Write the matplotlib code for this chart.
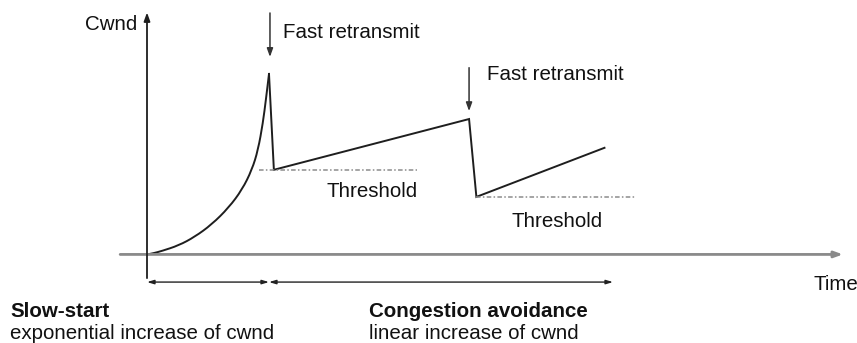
import numpy as np
import matplotlib.pyplot as plt
from matplotlib.path import Path
from matplotlib.patches import PathPatch

plt.rcParams['font.family'] = ['Liberation Sans', 'DejaVu Sans']

# slow-start phase: cwnd grows exponentially until the first loss
ss_time = [0, 0.5, 1.2, 2.6, 3.9, 5.3, 6.7, 7.8, 8.6, 9.1, 9.5, 9.75, 10]
ss_cwnd = [0, 0.2, 0.6, 1.6, 3.1, 5.3, 8.3, 11.5, 15.0, 18.5, 23.3, 27.5, 32]

# congestion avoidance: drop to threshold, then linear growth
ca_time = [10, 10.4, 26.4, 27.0, 37.5]
ca_cwnd = [32, 15.0, 24.0, 10.2, 18.9]

# threshold levels (value, start, end)
thresholds = [15.0, 10.2]
thresh_start = [9.2, 27.0]
thresh_end = [22.1, 40.1]

# fast retransmit events
loss_time = [10.08, 26.4]

# phase boundaries on the time axis
phase_edges = [0, 10, 38.2]

line_col = '#1e1e1e'
text_col = '#111111'

fig = plt.figure(figsize=(8.57, 3.43), dpi=100)
ax = fig.add_axes([0, 0, 1, 1])
ax.set_xlim(-12.05, 58.2)
ax.set_ylim(-15.7, 45.1)
ax.axis('off')

# axes drawn as arrows
ax.annotate('', xy=(57.05, 0), xytext=(-2.2, 0),
            arrowprops=dict(arrowstyle='-|>,head_length=0.5,head_width=0.18',
                            color='#8a8a8a', lw=2, shrinkA=0, shrinkB=0))
ax.annotate('', xy=(0, 42.9), xytext=(0, -4.2),
            arrowprops=dict(arrowstyle='-|>,head_length=0.5,head_width=0.18',
                            color=line_col, lw=1.3, shrinkA=0, shrinkB=0))

# slow-start curve: quadratic pieces between midpoints for a smooth trace
pts = np.column_stack([ss_time, ss_cwnd])
mids = (pts[:-1] + pts[1:]) / 2
verts = [pts[0], mids[0]]
codes = [Path.MOVETO, Path.LINETO]
for i in range(1, len(pts) - 1):
    verts += [pts[i], mids[i]]
    codes += [Path.CURVE3, Path.CURVE3]
verts.append(pts[-1])
codes.append(Path.LINETO)
ax.add_patch(PathPatch(Path(verts, codes), fill=False, edgecolor=line_col,
                       lw=1.4, joinstyle='round', capstyle='round'))

ax.plot(ca_time, ca_cwnd, color=line_col, lw=1.4, solid_joinstyle='miter')

# threshold lines
for th, t0, t1 in zip(thresholds, thresh_start, thresh_end):
    ax.plot([t0, t1], [th, th], color='#8c8c8c', lw=1.1,
            linestyle=(0, (3, 1.5, 1, 1.5)))

# fast retransmit markers
ax.annotate('', xy=(loss_time[0], 35.0), xytext=(loss_time[0], 42.8),
            arrowprops=dict(arrowstyle='-|>,head_length=0.5,head_width=0.18',
                            color='#333333', lw=1.1, shrinkA=0, shrinkB=0))
ax.annotate('', xy=(loss_time[1], 25.4), xytext=(loss_time[1], 33.1),
            arrowprops=dict(arrowstyle='-|>,head_length=0.5,head_width=0.18',
                            color='#333333', lw=1.1, shrinkA=0, shrinkB=0))

# phase spans below the time axis
for a, b in zip(phase_edges[:-1], phase_edges[1:]):
    ax.annotate('', xy=(b, -4.9), xytext=(a, -4.9),
                arrowprops=dict(arrowstyle='<|-|>,head_length=0.4,head_width=0.12',
                                color='#222222', lw=1.0, shrinkA=0, shrinkB=0))

fs = 14.8
ax.text(-0.8, 39.8, 'Cwnd', ha='right', va='baseline', fontsize=fs, color=text_col)
ax.text(54.67, -6.3, 'Time', ha='left', va='baseline', fontsize=fs, color=text_col)
ax.text(11.15, 38.4, 'Fast retransmit', ha='left', va='baseline', fontsize=fs, color=text_col)
ax.text(27.87, 30.9, 'Fast retransmit', ha='left', va='baseline', fontsize=fs, color=text_col)
ax.text(14.75, 10.2, 'Threshold', ha='left', va='baseline', fontsize=fs, color=text_col)
ax.text(29.84, 4.9, 'Threshold', ha='left', va='baseline', fontsize=fs, color=text_col)

ax.text(-11.23, -11.1, 'Slow-start', ha='left', va='baseline', fontsize=fs,
        fontweight='bold', color=text_col)
ax.text(-11.23, -15.0, 'exponential increase of cwnd', ha='left', va='baseline',
        fontsize=fs, color=text_col)
ax.text(18.2, -11.1, 'Congestion avoidance', ha='left', va='baseline', fontsize=fs,
        fontweight='bold', color=text_col)
ax.text(18.2, -15.0, 'linear increase of cwnd', ha='left', va='baseline',
        fontsize=fs, color=text_col)

fig.savefig('out.png', dpi=100, facecolor='white')
